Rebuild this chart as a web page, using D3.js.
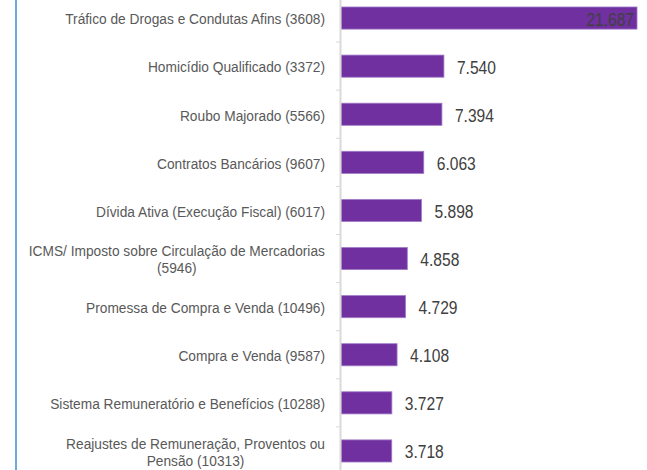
<!DOCTYPE html>
<html>
<head>
<meta charset="utf-8">
<script src="https://cdn.jsdelivr.net/npm/d3@7"></script>
<style>
  html, body { margin: 0; padding: 0; background: #fff; }
  svg { display: block; }
</style>
</head>
<body>
<svg id="chart" width="647" height="470"></svg>
<script>
const categories = [
  "Tráfico de Drogas e Condutas Afins (3608)",
  "Homicídio Qualificado (3372)",
  "Roubo Majorado (5566)",
  "Contratos Bancários (9607)",
  "Dívida Ativa (Execução Fiscal) (6017)",
  "ICMS/ Imposto sobre Circulação de Mercadorias (5946)",
  "Promessa de Compra e Venda (10496)",
  "Compra e Venda (9587)",
  "Sistema Remuneratório e Benefícios (10288)",
  "Reajustes de Remuneração, Proventos ou Pensão (10313)"
];
const values = [21687, 7540, 7394, 6063, 5898, 4858, 4729, 4108, 3727, 3718];
const valueLabels = ["21.687", "7.540", "7.394", "6.063", "5.898", "4.858", "4.729", "4.108", "3.727", "3.718"];

const FONT = "'Liberation Sans', Arial, sans-serif";
const svg = d3.select("#chart");

const axisX = 341;
const x = d3.scaleLinear().domain([0, d3.max(values)]).range([axisX, 637]);
const y = d3.scaleBand().domain(categories).range([-6, 475]).paddingInner(0.54).paddingOuter(0.27);

// condensed look: measure a reference label and derive horizontal squeeze
const probe = svg.append("text").attr("font-family", FONT).attr("font-size", 15).text(categories[0]);
const SX = 260 / probe.node().getComputedTextLength();
function measure(t, size) {
  probe.attr("font-size", size).text(t);
  return probe.node().getComputedTextLength() * SX;
}

// left blue border line
svg.append("line")
  .attr("x1", 16).attr("x2", 16).attr("y1", 0).attr("y2", 470)
  .attr("stroke", "#6fa8e0").attr("stroke-width", 2);

// bars
svg.selectAll("rect.bar").data(categories).enter().append("rect")
  .attr("class", "bar")
  .attr("x", axisX)
  .attr("y", d => y(d))
  .attr("width", (d, i) => x(values[i]) - axisX)
  .attr("height", y.bandwidth())
  .attr("fill", "#7030a0")
  .attr("stroke", "#a07cc8")
  .attr("stroke-width", 0.8);

// axis line and ticks
svg.append("line")
  .attr("x1", axisX - 0.5).attr("x2", axisX - 0.5).attr("y1", 0).attr("y2", 470)
  .attr("stroke", "#d9d9d9").attr("stroke-width", 2);
const step = y.step();
const tickYs = categories.map(d => y(d) - step * y.paddingOuter()).concat([y(categories[categories.length - 1]) + y.bandwidth() + step * y.paddingOuter()]);
svg.selectAll("line.tick").data(tickYs).enter().append("line")
  .attr("class", "tick")
  .attr("x1", axisX - 5).attr("x2", axisX - 1)
  .attr("y1", d => d).attr("y2", d => d)
  .attr("stroke", "#d9d9d9").attr("stroke-width", 1);

function squeezedText(px, py, anchor, size, fill, str, sx) {
  svg.append("g")
    .attr("transform", `translate(${px},${py}) scale(${sx},1)`)
    .append("text")
    .attr("x", 0).attr("y", 0).attr("dy", "0.35em")
    .attr("text-anchor", anchor)
    .attr("font-family", FONT).attr("font-size", size)
    .attr("fill", fill)
    .text(str);
}

// category labels with wrapping
const labelRight = 325;
const maxW = 300;
const lineH = 17;
categories.forEach((cat) => {
  const words = cat.split(" ");
  const lines = [];
  let cur = [];
  words.forEach(w => {
    const test = cur.concat([w]).join(" ");
    if (measure(test, 15) > maxW && cur.length) {
      lines.push(cur.join(" "));
      cur = [w];
    } else {
      cur.push(w);
    }
  });
  lines.push(cur.join(" "));
  const widest = d3.max(lines, l => measure(l, 15));
  const cy = y(cat) + y.bandwidth() / 2 + 1;
  const cx = labelRight - widest / 2;
  lines.forEach((l, k) => {
    squeezedText(lines.length > 1 ? cx : labelRight,
      cy + (k - (lines.length - 1) / 2) * lineH,
      lines.length > 1 ? "middle" : "end", 15, "#595959", l, SX);
  });
});
probe.remove();

// value labels
categories.forEach((d, i) => {
  const inside = i === 0;
  squeezedText(inside ? x(values[i]) - 3 : x(values[i]) + 13,
    y(d) + y.bandwidth() / 2 + 1,
    inside ? "end" : "start", 18.5, "#404040", valueLabels[i], SX * 0.92);
});
</script>
</body>
</html>
